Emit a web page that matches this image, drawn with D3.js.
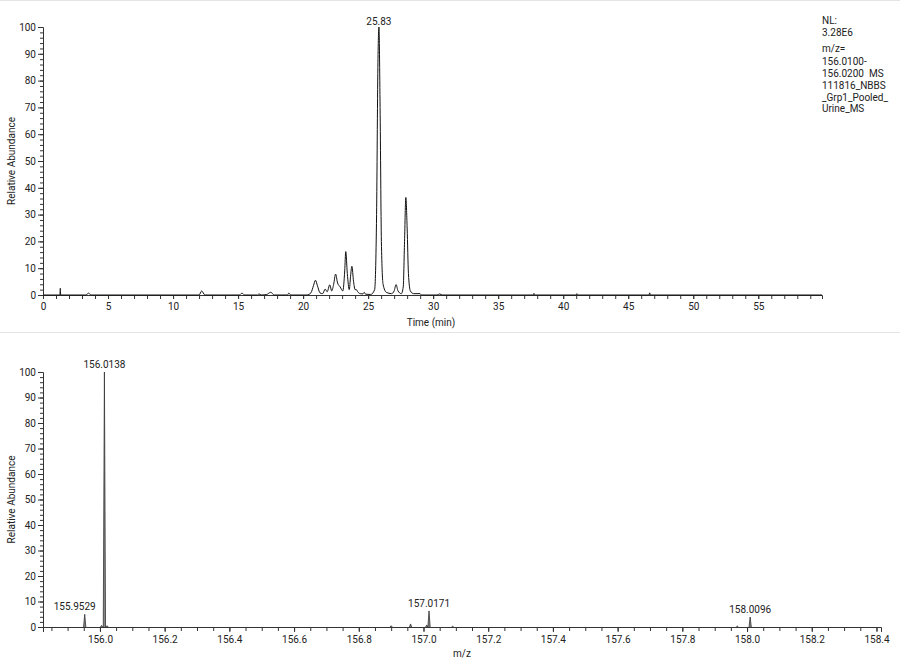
<!DOCTYPE html>
<html>
<head>
<meta charset="utf-8">
<script src="https://cdn.jsdelivr.net/npm/d3@7"></script>
<style>
  body { margin: 0; background: #fff; }
  text { font-family: Roboto, "Noto Sans", sans-serif; fill: #222; }
</style>
</head>
<body>
<div id="chart"></div>
<script>
var width = 900, height = 659;

// chromatogram trace: [time (min), relative abundance]
var chromTime = [0, 1.30, 1.33, 1.36, 3.3, 3.5, 3.7, 12.0, 12.2, 12.45, 15.1, 15.3, 15.5, 16.5, 16.6, 16.8,
  17.2, 17.5, 17.8, 18.8, 18.9, 19.05, 20.3, 20.6, 20.8, 20.95, 21.1, 21.3, 21.5, 21.7, 21.85, 22.05,
  22.2, 22.35, 22.5, 22.65, 22.85, 23.05, 23.2, 23.28, 23.4, 23.55, 23.65, 23.75, 23.88, 24.0, 24.1,
  24.2, 24.4, 24.6, 24.7, 24.8, 25.2, 25.5, 25.65, 25.75, 25.83, 25.92, 26.02, 26.15, 26.4, 26.8, 27.0,
  27.15, 27.3, 27.55, 27.7, 27.8, 27.9, 28.0, 28.1, 28.25, 28.5, 29.0, 29.1, 30.3, 30.5, 30.7, 37.7,
  37.75, 37.8, 41.0, 41.05, 41.1, 46.6, 46.65, 46.7, 59.9];
var chromValue = [0, 0, 2.5, 0, 0, 0.7, 0, 0, 1.5, 0, 0, 0.7, 0, 0, 0.4, 0,
  0.2, 1.0, 0, 0, 0.7, 0, 0, 0.8, 3.5, 5.5, 3.5, 0.8, 0.5, 2.2, 1.2, 3.8,
  1.5, 4.0, 7.8, 4.5, 3.0, 1.5, 9.0, 16.2, 8.0, 2.0, 7.0, 10.7, 5.0, 2.0, 2.0,
  1.2, 0.5, 0.4, 1.0, 0.3, 0.2, 2.0, 30, 85, 100, 70, 20, 4.0, 1.0, 0.5, 1.5,
  3.9, 1.5, 0.5, 3.0, 20, 36.4, 25, 8.0, 1.5, 0.5, 0.5, 0, 0, 0.4, 0, 0,
  0.6, 0, 0, 0.5, 0, 0, 0.8, 0, 0];

// mass spectrum sticks
var specMz = [155.9529, 156.0050, 156.0138, 156.0220, 156.9000, 156.9600, 157.0100, 157.0171, 157.0900, 157.9700, 158.0096];
var specValue = [5.0, 0.6, 100, 0.5, 0.5, 1.2, 0.8, 6.3, 0.3, 0.4, 3.9];
var specLabels = ["156.0138", "155.9529", "157.0171", "158.0096"];

var infoLines = ["NL:", "3.28E6", "m/z=", "156.0100-", "156.0200  MS", "111816_NBBS", "_Grp1_Pooled_", "Urine_MS"];
var infoY = [20, 32, 48, 61, 73, 85, 97, 108];

var svg = d3.select('#chart').append('svg')
  .attr('width', width).attr('height', height);

// panel separators
svg.append('line').attr('x1', 0).attr('x2', width).attr('y1', 0.5).attr('y2', 0.5)
  .attr('stroke', '#e4e4e4');
svg.append('line').attr('x1', 0).attr('x2', width).attr('y1', 332.5).attr('y2', 332.5)
  .attr('stroke', '#e4e4e4');

function drawYAxis(g, y) {
  g.append('g').attr('transform', 'translate(43,0)')
    .call(d3.axisLeft(y).tickValues(d3.range(0, 101, 2)).tickSize(3).tickFormat(''))
    .call(function(a){ a.select('.domain').remove(); });
  g.append('g').attr('transform', 'translate(43,0)')
    .call(d3.axisLeft(y).tickValues(d3.range(0, 101, 10)).tickSize(5).tickPadding(2))
    .call(function(a){ a.selectAll('text').attr('font-size', 10); });
}

function styleAxes(g) {
  g.selectAll('.domain, .tick line').attr('stroke', '#333');
  g.selectAll('text').attr('font-family', 'Roboto, "Noto Sans", sans-serif').attr('fill', '#222');
}

// ---------- top: chromatogram ----------
var chromG = svg.append('g');
var xT = d3.scaleLinear().domain([0, 59.9]).range([43, 822]);
var yT = d3.scaleLinear().domain([0, 100]).range([295, 27]);

drawYAxis(chromG, yT);
chromG.append('g').attr('transform', 'translate(0,295)')
  .call(d3.axisBottom(xT).tickValues(d3.range(0, 60, 1)).tickSize(4).tickFormat(''))
  .call(function(a){ a.select('.domain').remove(); });
chromG.append('g').attr('transform', 'translate(0,295)')
  .call(d3.axisBottom(xT).tickValues(d3.range(0, 56, 5)).tickSize(4).tickPadding(4))
  .call(function(a){ a.selectAll('text').attr('font-size', 10); });
styleAxes(chromG);

var chrom = chromTime.map(function(t, i){ return [t, chromValue[i]]; });
chromG.append('path').datum(chrom)
  .attr('fill', 'none').attr('stroke', '#111').attr('stroke-width', 1)
  .attr('d', d3.line().x(function(d){ return xT(d[0]); }).y(function(d){ return yT(d[1]); })
    .curve(d3.curveMonotoneX));

chromG.append('text').attr('x', xT(25.83)).attr('y', 25).attr('text-anchor', 'middle')
  .attr('font-size', 10).text('25.83');

chromG.append('text').attr('transform', 'translate(15,' + yT(50) + ') rotate(-90)')
  .attr('text-anchor', 'middle').attr('font-size', 10).text('Relative Abundance');
chromG.append('text').attr('x', 431).attr('y', 326).attr('text-anchor', 'middle')
  .attr('font-size', 10).text('Time (min)');

chromG.selectAll('.info').data(infoLines).enter().append('text')
  .attr('class', 'info')
  .attr('x', 822).attr('y', function(d, i){ return infoY[i] + 3.5; })
  .attr('font-size', 10).attr('xml:space', 'preserve')
  .text(function(d){ return d; });

// ---------- bottom: mass spectrum ----------
var specG = svg.append('g');
var xB = d3.scaleLinear().domain([155.824, 158.414]).range([43, 881]);
var yB = d3.scaleLinear().domain([0, 100]).range([627, 372]);

drawYAxis(specG, yB);
specG.append('g').attr('transform', 'translate(0,627)')
  .call(d3.axisBottom(xB).tickValues(d3.range(155.85, 158.41, 0.05)).tickSize(4).tickFormat(''))
  .call(function(a){ a.select('.domain').remove(); });
specG.append('g').attr('transform', 'translate(0,627)')
  .call(d3.axisBottom(xB).tickValues(d3.range(156.0, 158.41, 0.2)).tickSize(5).tickPadding(4)
    .tickFormat(d3.format('.1f')))
  .call(function(a){ a.selectAll('text').attr('font-size', 10); });
styleAxes(specG);

var stick = d3.line().x(function(d){ return xB(d[0]); }).y(function(d){ return yB(d[1]); });
specG.selectAll('.peak').data(specMz).enter().append('path')
  .attr('class', 'peak')
  .attr('fill', '#888').attr('stroke', '#333').attr('stroke-width', 0.8)
  .attr('d', function(m, i){
    return stick([[m - 0.0035, 0], [m, specValue[i]], [m + 0.0035, 0]]);
  });

var labelled = specLabels.map(function(s){ return +s; });
specG.selectAll('.plabel').data(labelled).enter().append('text')
  .attr('class', 'plabel')
  .attr('x', function(m){ return xB(m); })
  .attr('dx', function(m){ return m < 156 ? -10 : 0; }) // nudged left, clear of the base peak
  .attr('y', function(m){ return yB(specValue[specMz.indexOf(m)]) - 4; })
  .attr('text-anchor', 'middle').attr('font-size', 10)
  .text(function(m, i){ return specLabels[i]; });

specG.append('text').attr('transform', 'translate(15,' + yB(50) + ') rotate(-90)')
  .attr('text-anchor', 'middle').attr('font-size', 10).text('Relative Abundance');
specG.append('text').attr('x', 462).attr('y', 657).attr('text-anchor', 'middle')
  .attr('font-size', 10).text('m/z');
</script>
</body>
</html>
